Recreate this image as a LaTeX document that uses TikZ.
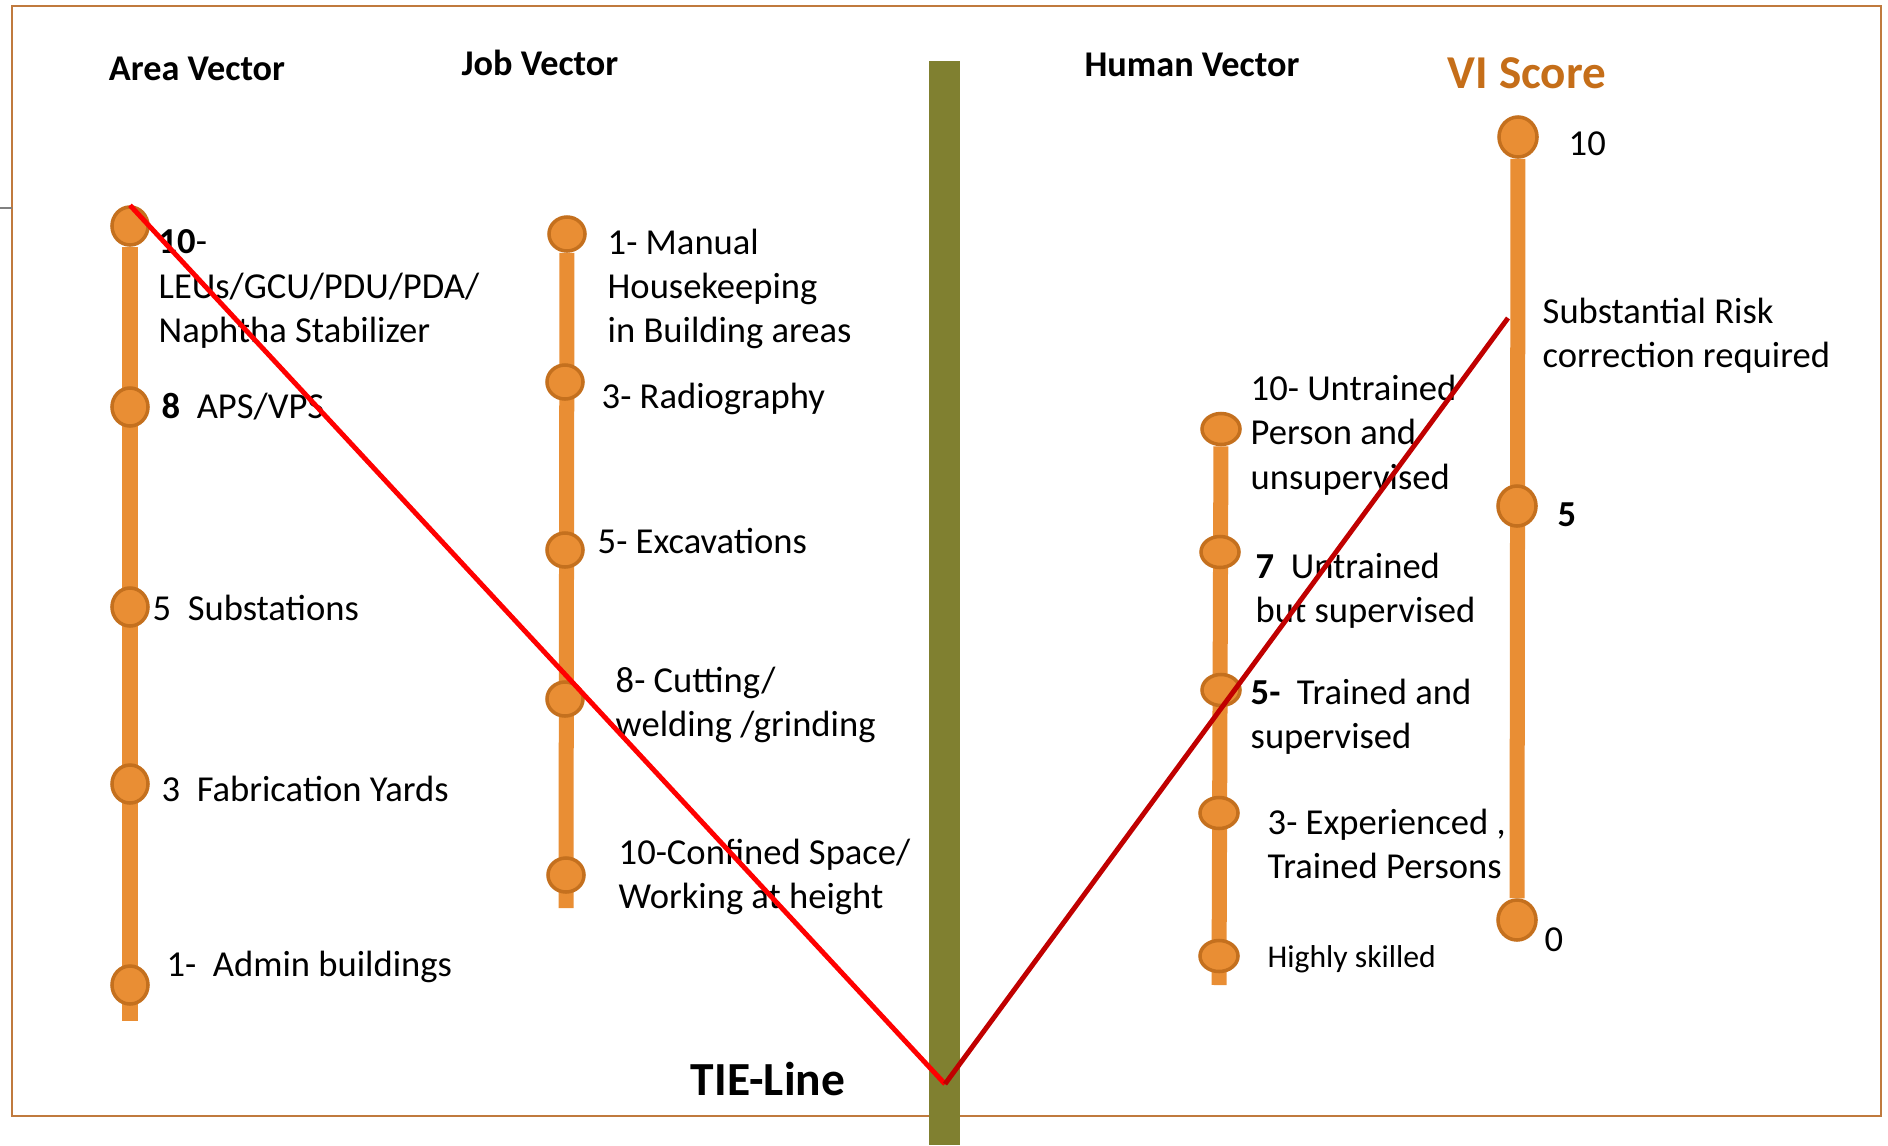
\documentclass[tikz,border=0pt]{standalone}
\usepackage{fontspec}
\setmainfont{Carlito}
\usepackage{tikz}
\usetikzlibrary{shapes.geometric,backgrounds}
\definecolor{barorange}{RGB}{233,142,52}
\definecolor{knobedge}{RGB}{196,112,30}
\definecolor{tieolive}{RGB}{128,128,48}
\definecolor{framebrown}{RGB}{192,122,62}
\definecolor{scorebrown}{RGB}{197,110,25}
\definecolor{darkred}{RGB}{192,0,0}

\begin{document}
\begin{tikzpicture}[x=0.01cm, y=-0.01cm,
	knob/.style={ellipse, draw=knobedge, fill=barorange, line width=1pt, minimum width=0.36cm, minimum height=0.38cm, inner sep=0pt},
	rail/.style={draw=barorange, line width=0.15cm},
	lbl/.style={anchor=west, align=left, inner sep=0pt, font=\fontsize{10.4}{12.6}\selectfont},
	head/.style={inner sep=0pt, font=\fontsize{10.3}{12}\selectfont\bfseries}]
				\useasboundingbox (0,0) rectangle (1888,1145);
				\draw[framebrown, line width=0.8pt] (12,6) rectangle (1881,1116);
				\draw[gray] (0,208) -- (12,208);
				\fill[tieolive] (929,61) rectangle (960,1145);

				% headings
				\node[head] (harea) at (197,69) {Area Vector};
				\node[head] (hjob) at (540,63) {Job Vector};
				\node[head] (hhuman) at (1192,65) {Human Vector};
				\node[head, text=scorebrown, font=\fontsize{13.4}{15}\selectfont\bfseries] (hscore) at (1527,73) {VI Score};
				\node[head, font=\fontsize{13.5}{15}\selectfont\bfseries] (htie) at (768,1079) {TIE-Line};

				% area vector
				\node[knob] (a10) at (130,226) {};
				\node[knob] (a8) at (130,407) {};
				\node[knob] (a5) at (130,607) {};
				\node[knob] (a3) at (130,784) {};
				\node[knob] (a1) at (130,985) {};
				\coordinate (abot) at (130,1021);
				\node[lbl] (ta10) at (158,289) {\textbf{10}-\\LEUs/GCU/PDU/PDA/\\Naphtha Stabilizer};
				\node[lbl] (ta8) at (161,407) {\textbf{8}~~APS/VPS};
				\node[lbl] (ta5) at (152,608) {5~~Substations};
				\node[lbl] (ta3) at (161,789) {3~~Fabrication Yards};
				\node[lbl] (ta1) at (166,967) {1-~~Admin buildings};

				% job vector
				\node[knob, minimum height=0.34cm] (j1) at (567,234) {};
				\node[knob, minimum height=0.34cm] (j3) at (565,382) {};
				\node[knob, minimum height=0.34cm] (j5) at (565,550) {};
				\node[knob, minimum height=0.34cm] (j8) at (565,699) {};
				\node[knob, minimum height=0.34cm] (j10) at (566,875) {};
				\coordinate (jbot) at (566,908);
				\node[lbl] (tj1) at (607,289) {1- Manual\\Housekeeping\\in Building areas};
				\node[lbl] (tj3) at (601,399) {3- Radiography};
				\node[lbl] (tj5) at (597,541) {5- Excavations};
				\node[lbl] (tj8) at (615,705) {8- Cutting/\\welding /grinding};
				\node[lbl] (tj10) at (618,877) {10-Confined Space/\\Working at height};

				% human vector
				\node[knob, minimum width=0.38cm, minimum height=0.31cm] (h10) at (1221,429) {};
				\node[knob, minimum width=0.38cm, minimum height=0.31cm] (h7) at (1220,552) {};
				\node[knob, minimum width=0.38cm, minimum height=0.31cm] (h5) at (1221,690) {};
				\node[knob, minimum width=0.38cm, minimum height=0.31cm] (h3) at (1219,813) {};
				\node[knob, minimum width=0.38cm, minimum height=0.31cm] (h1) at (1219,956) {};
				\coordinate (hbot) at (1219,985);
				\node[lbl] (th10) at (1250,435) {10- Untrained\\Person and\\unsupervised};
				\node[lbl] (th7) at (1255,591) {\textbf{7}~~Untrained\\but supervised};
				\node[lbl] (th5) at (1250,717) {\textbf{5-}~~Trained and\\supervised};
				\node[lbl] (th3) at (1267,844) {3- Experienced ,\\Trained Persons};
				\node[lbl, font=\fontsize{9}{11}\selectfont] (th1) at (1267,959) {Highly skilled};

				% VI score
				\node[knob, minimum width=0.38cm, minimum height=0.40cm] (s10) at (1518,137) {};
				\node[knob, minimum width=0.38cm, minimum height=0.40cm] (s5) at (1517,506) {};
				\node[knob, minimum width=0.38cm, minimum height=0.40cm] (s0) at (1517,920) {};
				\node[lbl] (ts10) at (1568,144) {10};
				\node[lbl] (trisk) at (1542,336) {Substantial Risk\\correction required};
				\node[lbl] (ts5) at (1557,515) {\textbf{5}};
				\node[lbl] (ts0) at (1544,940) {0};

				\begin{scope}[on background layer]
					\draw[rail] (a10) -- (abot);
					\draw[rail] (j1) -- (jbot);
					\draw[rail] (h10) -- (hbot);
					\draw[rail] (s10) -- (s0);
				\end{scope}

				% tie line
				\coordinate (vbot) at (945,1084);
				\coordinate (vrisk) at (1508,318);
				\draw[red, line width=1.4pt] (a10.north) -- (vbot);
				\draw[darkred, line width=1.4pt] (vbot) -- (vrisk);
\end{tikzpicture}
\end{document}
